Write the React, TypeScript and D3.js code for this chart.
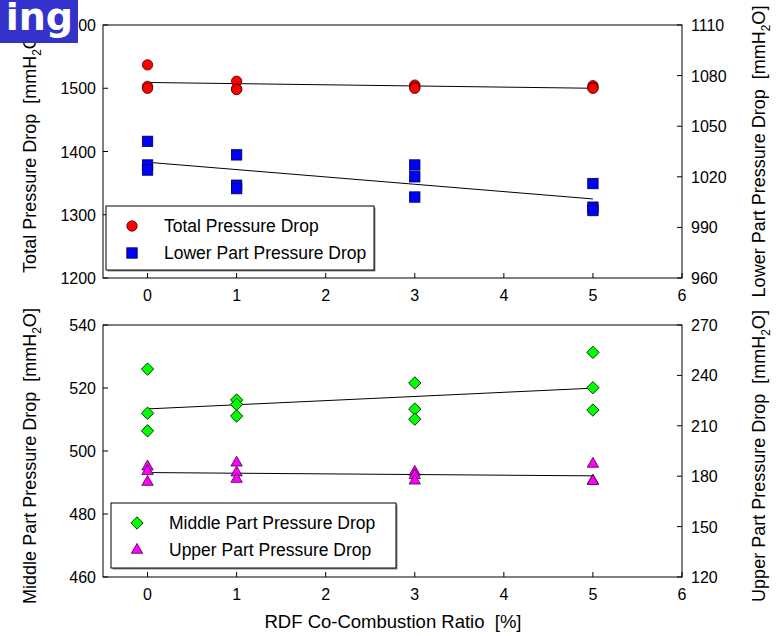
import React, { useEffect, useRef } from 'react';
import * as d3 from 'd3';

// RDF co-combustion ratio [%] for each measurement
const ratioValues = [0, 0, 0, 1, 1, 1, 3, 3, 3, 5, 5, 5];
const totalDrop = [1537, 1503, 1500, 1511, 1499, 1498, 1505, 1502, 1500, 1504, 1501, 1500];
const lowerDrop = [1041, 1027, 1024, 1033, 1015, 1013, 1027, 1020, 1008, 1016, 1002, 1000];
const middleDrop = [526, 512, 506.4, 516.2, 514.8, 511.1, 521.6, 513.3, 510.1, 531.3, 520.1, 513];
const upperDrop = [185.7, 182.9, 176.5, 188, 182.1, 178.3, 182.5, 180.5, 177.3, 187.3, 177.3, 177];

const xTicks = [0, 1, 2, 3, 4, 5, 6];
const totalTicks = [1200, 1300, 1400, 1500, 1600];
const lowerTicks = [960, 990, 1020, 1050, 1080, 1110];
const middleTicks = [460, 480, 500, 520, 540];
const upperTicks = [120, 150, 180, 210, 240, 270];

const FONT = "'Liberation Sans', Arial, sans-serif";

type Marker = 'circle' | 'square' | 'diamond' | 'triangle';

const fit = (xs: number[], ys: number[]) => {
  const mx = d3.mean(xs)!;
  const my = d3.mean(ys)!;
  let sxy = 0, sxx = 0;
  xs.forEach((x, i) => { sxy += (x - mx) * (ys[i] - my); sxx += (x - mx) ** 2; });
  const slope = sxy / sxx;
  return (x: number) => my + slope * (x - mx);
};

const App: React.FC = () => {
  const svgRef = useRef<SVGSVGElement>(null);

  useEffect(() => {
    if (!svgRef.current) return;
    const svg = d3.select(svgRef.current);
    svg.selectAll('*').remove();

    const W = 778, H = 636;
    svg.attr('width', W).attr('height', H);

    const x = d3.scaleLinear().domain([-0.5, 6]).range([103, 682]);

    const drawMarker = (g: d3.Selection<SVGGElement, unknown, null, undefined>, kind: Marker, cx: number, cy: number) => {
      if (kind === 'circle') {
        g.append('circle').attr('cx', cx).attr('cy', cy).attr('r', 5.2)
          .attr('fill', '#ff0000').attr('stroke', '#400000').attr('stroke-width', 0.8);
      } else if (kind === 'square') {
        g.append('rect').attr('x', cx - 5.2).attr('y', cy - 5.2).attr('width', 10.4).attr('height', 10.4)
          .attr('fill', '#0000ff').attr('stroke', '#000040').attr('stroke-width', 0.8);
      } else if (kind === 'diamond') {
        g.append('path').attr('d', d3.symbol(d3.symbolSquare, 76)()!)
          .attr('transform', `translate(${cx},${cy}) rotate(45)`)
          .attr('fill', '#00ff00').attr('stroke', '#003000').attr('stroke-width', 0.9);
      } else {
        g.append('path').attr('d', d3.symbol(d3.symbolTriangle, 56)()!)
          .attr('transform', `translate(${cx},${cy})`)
          .attr('fill', '#ff00ff').attr('stroke', '#400040').attr('stroke-width', 0.8);
      }
    };

    const panel = (opts: {
      top: number; bottom: number;
      leftDomain: [number, number]; rightDomain: [number, number];
      leftTicks: number[]; rightTicks: number[];
      leftData: number[]; rightData: number[];
      leftMarker: Marker; rightMarker: Marker;
      leftTitle: string; rightTitle: string;
      legendLabels: [string, string];
      legendBox: [number, number, number, number];
      titleShift: number;
    }) => {
      const yL = d3.scaleLinear().domain(opts.leftDomain).range([opts.bottom, opts.top]);
      const yR = d3.scaleLinear().domain(opts.rightDomain).range([opts.bottom, opts.top]);
      const g = svg.append('g');
      const [x0, x1] = x.range();

      // fit lines
      [[opts.leftData, yL], [opts.rightData, yR]].forEach(([vals, ys]: any) => {
        const f = fit(ratioValues, vals);
        g.append('line')
          .attr('x1', x(0)).attr('x2', x(5))
          .attr('y1', ys(f(0))).attr('y2', ys(f(5)))
          .attr('stroke', '#000').attr('stroke-width', 1);
      });

      // markers
      ratioValues.forEach((r, i) => drawMarker(g, opts.leftMarker, x(r), yL(opts.leftData[i])));
      ratioValues.forEach((r, i) => drawMarker(g, opts.rightMarker, x(r), yR(opts.rightData[i])));

      // frame
      g.append('rect').attr('x', x0).attr('y', opts.top)
        .attr('width', x1 - x0).attr('height', opts.bottom - opts.top)
        .attr('fill', 'none').attr('stroke', '#000').attr('stroke-width', 1);

      // x ticks (inward)
      xTicks.forEach(t => {
        g.append('line').attr('x1', x(t)).attr('x2', x(t))
          .attr('y1', opts.bottom).attr('y2', opts.bottom - 5).attr('stroke', '#000');
        g.append('text').attr('x', x(t)).attr('y', opts.bottom + 23)
          .attr('text-anchor', 'middle').attr('font-size', 16).attr('font-family', FONT)
          .text(t);
      });

      opts.leftTicks.forEach(t => {
        g.append('line').attr('x1', x0).attr('x2', x0 + 5)
          .attr('y1', yL(t)).attr('y2', yL(t)).attr('stroke', '#000');
        g.append('text').attr('x', x0 - 7).attr('y', yL(t) + 6)
          .attr('text-anchor', 'end').attr('font-size', 16).attr('font-family', FONT)
          .text(t);
      });
      opts.rightTicks.forEach(t => {
        g.append('line').attr('x1', x1).attr('x2', x1 - 5)
          .attr('y1', yR(t)).attr('y2', yR(t)).attr('stroke', '#000');
        g.append('text').attr('x', x1 + 9).attr('y', yR(t) + 6)
          .attr('text-anchor', 'start').attr('font-size', 16).attr('font-family', FONT)
          .text(t);
      });

      // axis titles with subscript
      const mid = (opts.top + opts.bottom) / 2 + opts.titleShift;
      const title = (label: string, tx: number) => {
        const t = g.append('text')
          .attr('transform', `translate(${tx},${mid}) rotate(-90)`)
          .attr('text-anchor', 'middle').attr('font-size', 18).attr('font-family', FONT)
          .attr('xml:space', 'preserve');
        t.append('tspan').text(`${label}  [mmH`);
        t.append('tspan').attr('font-size', 12).attr('dy', 5).text('2');
        t.append('tspan').attr('dy', -5).text('O]');
      };
      title(opts.leftTitle, 36);
      title(opts.rightTitle, 765);

      // legend
      const [lx, ly, lw, lh] = opts.legendBox;
      g.append('rect').attr('x', lx + 1.5).attr('y', ly + 1.5).attr('width', lw).attr('height', lh)
        .attr('fill', '#888');
      g.append('rect').attr('x', lx).attr('y', ly).attr('width', lw).attr('height', lh)
        .attr('fill', '#fff').attr('stroke', '#000').attr('stroke-width', 1);
      const kinds: Marker[] = [opts.leftMarker, opts.rightMarker];
      opts.legendLabels.forEach((lab, i) => {
        const cy = ly + 20 + i * 27;
        drawMarker(g, kinds[i], lx + 26, cy);
        g.append('text').attr('x', lx + 58).attr('y', cy + 6)
          .attr('font-size', 17.5).attr('font-family', FONT).text(lab);
      });
    };

    panel({
      top: 25, bottom: 278,
      leftDomain: [1200, 1600], rightDomain: [960, 1110],
      leftTicks: totalTicks, rightTicks: lowerTicks,
      leftData: totalDrop, rightData: lowerDrop,
      leftMarker: 'circle', rightMarker: 'square',
      leftTitle: 'Total Pressure Drop', rightTitle: 'Lower Part Pressure Drop',
      legendLabels: ['Total Pressure Drop', 'Lower Part Pressure Drop'],
      legendBox: [106, 206, 268, 64],
      titleShift: 0,
    });

    panel({
      top: 325, bottom: 577,
      leftDomain: [460, 540], rightDomain: [120, 270],
      leftTicks: middleTicks, rightTicks: upperTicks,
      leftData: middleDrop, rightData: upperDrop,
      leftMarker: 'diamond', rightMarker: 'triangle',
      leftTitle: 'Middle Part Pressure Drop', rightTitle: 'Upper Part Pressure Drop',
      legendLabels: ['Middle Part Pressure Drop', 'Upper Part Pressure Drop'],
      legendBox: [111, 503, 285, 65],
      titleShift: 5,
    });

    svg.append('text').attr('x', 393).attr('y', 628)
      .attr('text-anchor', 'middle').attr('font-size', 18.5).attr('font-family', FONT)
      .attr('xml:space', 'preserve')
      .text('RDF Co-Combustion Ratio  [%]');

    // cropped banner in the corner
    svg.append('rect').attr('x', 0).attr('y', 0).attr('width', 78).attr('height', 43).attr('fill', '#3333cc');
    svg.append('text').attr('x', 73).attr('y', 30)
      .attr('text-anchor', 'end').attr('font-size', 38).attr('font-weight', 'bold')
      .attr('font-family', "'DejaVu Sans', sans-serif").attr('fill', '#fff')
      .text('ing');
  }, []);

  return <svg ref={svgRef} style={{ position: 'absolute', left: 0, top: 0 }}></svg>;
};

export default App;
